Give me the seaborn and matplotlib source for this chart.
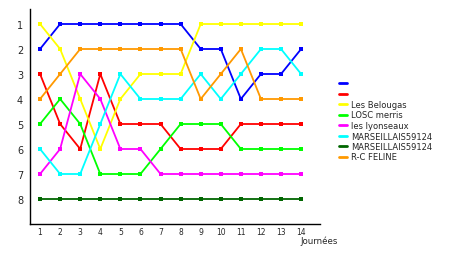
import matplotlib
matplotlib.use("Agg")
import matplotlib.pyplot as plt
import seaborn as sns
import pandas as pd
from matplotlib.lines import Line2D

journees = list(range(1, 15))
teams = ["t1", "t2", "Les Belougas", "LOSC merris", "les lyonseaux",
         "MARSEILLAIS59124", "MARSEILLAIS59124 ", "R-C FELINE"]
legend_labels = [" ", " ", "Les Belougas", "LOSC merris", "les lyonseaux",
                 "MARSEILLAIS59124", "MARSEILLAIS59124", "R-C FELINE"]
blue = [2, 1, 1, 1, 1, 1, 1, 1, 2, 2, 4, 3, 3, 2]
red = [3, 5, 6, 3, 5, 5, 5, 6, 6, 6, 5, 5, 5, 5]
belougas = [1, 2, 4, 6, 4, 3, 3, 3, 1, 1, 1, 1, 1, 1]
losc = [5, 4, 5, 7, 7, 7, 6, 5, 5, 5, 6, 6, 6, 6]
lyonseaux = [7, 6, 3, 4, 6, 6, 7, 7, 7, 7, 7, 7, 7, 7]
marseillais1 = [6, 7, 7, 5, 3, 4, 4, 4, 3, 4, 3, 2, 2, 3]
marseillais2 = [8, 8, 8, 8, 8, 8, 8, 8, 8, 8, 8, 8, 8, 8]
feline = [4, 3, 2, 2, 2, 2, 2, 2, 4, 3, 2, 4, 4, 4]
series = [blue, red, belougas, losc, lyonseaux, marseillais1, marseillais2, feline]
colors = ["#0000FF", "#FF0000", "#FFFF00", "#00FF00", "#FF00FF",
          "#00FFFF", "#006600", "#FF9900"]

rows = []
for t, vals in zip(teams, series):
    for j, v in zip(journees, vals):
        rows.append({"team": t, "journee": j, "rang": v})
df = pd.DataFrame(rows)

sns.set_style("white")
plt.rcParams["font.family"] = ["DejaVu Sans"]

fig = plt.figure(figsize=(4.6, 2.55), dpi=100)
ax = fig.add_axes([30/460, 30/255, 290/460, 215/255])
sns.lineplot(data=df, x="journee", y="rang", hue="team", hue_order=teams,
             palette=dict(zip(teams, colors)), marker="s", markersize=3,
             markeredgewidth=0, linewidth=1.3, ax=ax, legend=False)

ax.set_xlim(0.5, 14.94)
ax.set_ylim(9, 0.4)
ax.set_xticks(journees)
ax.set_xticklabels([str(j) for j in journees], fontsize=5.5)
ax.set_yticks(range(1, 9))
ax.set_yticklabels([str(i) for i in range(1, 9)], fontsize=7)
ax.tick_params(axis="y", length=0, pad=5)
ax.tick_params(axis="x", length=0, pad=2)
ax.set_xlabel("")
ax.set_ylabel("")
for s in ["top", "right"]:
    ax.spines[s].set_visible(False)
for s in ["left", "bottom"]:
    ax.spines[s].set_color("black")
    ax.spines[s].set_linewidth(1)

fig.text(300/460, 1 - 236.5/255, "Journées", fontsize=6.2, va="top", ha="left")

handles = [Line2D([0], [0], color=c, linewidth=2) for c in colors]
leg = fig.legend(handles, legend_labels, loc="upper left",
                 bbox_to_anchor=(339/460, 1 - 80/255), frameon=False,
                 fontsize=6, handlelength=1.0, handletextpad=0.4,
                 labelspacing=0.18, borderaxespad=0, borderpad=0)

fig.savefig("out.png", dpi=100)
